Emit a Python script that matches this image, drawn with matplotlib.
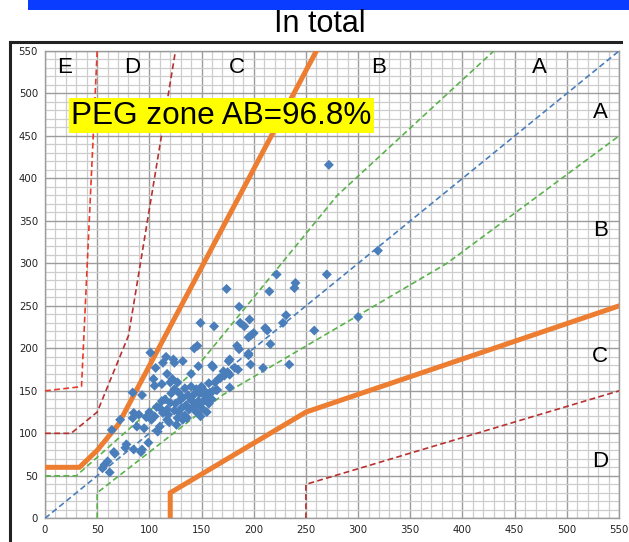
import matplotlib
matplotlib.use("Agg")
import matplotlib.pyplot as plt
from matplotlib.lines import Line2D
from matplotlib.patches import Rectangle
from matplotlib.ticker import MultipleLocator

# reference vs. measured glucose (mg/dL)
ref_x = [272, 319, 300, 270, 222, 258, 240, 239, 215, 174, 186, 149, 162, 187, 191,
         196, 228, 231, 211, 213, 200, 195, 216, 146, 143, 184, 186, 195, 177, 197,
         209, 234, 182, 171, 177, 177, 165, 160, 161, 147, 168, 157, 152, 154, 148,
         145, 140, 134, 132, 123, 124, 116, 113, 101, 106, 104, 105, 112, 117, 122,
         93, 84, 85, 84, 88, 97, 102, 95, 99, 93, 85, 78, 77, 72, 64, 66, 67, 60, 57,
         55, 62, 108, 110, 117, 127, 132, 110, 120, 124, 135, 140, 146, 154, 155, 161,
         167, 137, 132, 134, 121, 124, 117, 113, 107, 147, 156, 150, 164, 172, 175,
         185, 176, 195, 198, 115, 118, 125, 128, 130, 138, 142, 145, 150, 152, 158,
         160, 128, 112, 119, 126, 131, 136, 143, 149, 163, 157, 120, 127, 140, 100,
         105, 90, 92]
meas_y = [416, 315, 237, 287, 287, 221, 277, 271, 267, 270, 249, 230, 226, 230, 226,
          234, 230, 239, 224, 221, 218, 213, 205, 203, 200, 203, 199, 194, 187, 181,
          177, 181, 177, 173, 169, 154, 151, 180, 178, 179, 165, 159, 151, 146, 147,
          152, 155, 153, 185, 187, 183, 190, 183, 195, 177, 164, 156, 158, 170, 164,
          145, 148, 124, 118, 108, 119, 116, 106, 89, 81, 81, 87, 83, 116, 104, 78, 76,
          67, 63, 59, 54, 102, 108, 116, 118, 116, 130, 136, 127, 133, 139, 136, 143,
          125, 150, 165, 145, 142, 121, 147, 152, 128, 124, 131, 138, 143, 155, 151,
          168, 172, 175, 185, 192, 216, 140, 122, 135, 125, 140, 128, 131, 125, 130,
          138, 148, 140, 148, 138, 113, 110, 130, 118, 146, 120, 160, 135, 160, 160,
          170, 125, 120, 122, 78]

# Parkes error grid zone boundaries
identity_x = [0, 550]
identity_y = [0, 550]
a_upper_x = [0, 30, 140, 280, 430]
a_upper_y = [50, 50, 170, 380, 550]
a_lower_x = [50, 50, 170, 385, 550]
a_lower_y = [0, 30, 145, 300, 450]
b_upper_x = [0, 33, 50, 70, 260]
b_upper_y = [60, 60, 80, 110, 550]
b_lower_x = [120, 120, 250, 550]
b_lower_y = [0, 30, 125, 250]
c_upper_x = [0, 25, 50, 80, 125]
c_upper_y = [100, 100, 125, 215, 550]
c_lower_x = [250, 250, 550]
c_lower_y = [0, 40, 150]
d_upper_x = [0, 35, 50]
d_upper_y = [150, 155, 550]

zone_labels = ["E", "D", "C", "B", "A", "A", "B", "C", "D"]
zone_label_x = [19, 84, 184, 320, 474, 532, 532, 532, 532]
zone_label_y = [530, 530, 530, 530, 530, 478, 339, 190, 67]

peg_text = "PEG zone AB=96.8%"

W, H, DPI = 629, 542, 100
fig = plt.figure(figsize=(W / DPI, H / DPI), dpi=DPI)
fig.patch.set_facecolor("white")

# blue band and frame lines
fig.add_artist(Rectangle((28 / W, 1 - 10 / H), 1, 10 / H, transform=fig.transFigure,
                         facecolor="#0A3CFF", edgecolor="none"))
fig.add_artist(Line2D([10 / W, 10 / W], [0, 1 - 42 / H], transform=fig.transFigure,
                      color="#222222", lw=2.2))
fig.add_artist(Line2D([10 / W, 621 / W], [1 - 42 / H, 1 - 42 / H],
                      transform=fig.transFigure, color="#222222", lw=2.2))
fig.text(320 / W, 1 - 24 / H, "In total", ha="center", va="center",
         fontsize=22, family=["Liberation Sans", "DejaVu Sans"])

ax = fig.add_axes([45 / W, (H - 518.3) / H, 574 / W, 467.3 / H])
ax.set_xlim(0, 550)
ax.set_ylim(0, 550)
ax.xaxis.set_major_locator(MultipleLocator(50))
ax.yaxis.set_major_locator(MultipleLocator(50))
ax.xaxis.set_minor_locator(MultipleLocator(10))
ax.yaxis.set_minor_locator(MultipleLocator(10))
ax.grid(which="minor", color="#CDCDCD", lw=0.9)
ax.grid(which="major", color="#9C9C9C", lw=1.0)
ax.set_axisbelow(True)
ax.tick_params(which="both", length=0, labelsize=7.3, colors="#222222")
ax.tick_params(axis="x", pad=5)
ax.tick_params(axis="y", pad=5)
for sp in ax.spines.values():
    sp.set_color("#9C9C9C")
    sp.set_linewidth(1.0)

dash = dict(lw=1.2, linestyle=(0, (3.5, 2)))
ax.plot(identity_x, identity_y, color="#4A7EBB", zorder=3, **dash)
ax.plot(a_upper_x, a_upper_y, color="#59B34A", zorder=3, **dash)
ax.plot(a_lower_x, a_lower_y, color="#59B34A", zorder=3, **dash)
ax.plot(c_upper_x, c_upper_y, color="#B8312F", zorder=3, **dash)
ax.plot(c_lower_x, c_lower_y, color="#B8312F", zorder=3, **dash)
ax.plot(d_upper_x, d_upper_y, color="#E8392B", zorder=3, **dash)
ax.plot(b_upper_x, b_upper_y, color="#ED7D31", lw=3.6, zorder=3,
        solid_joinstyle="miter")
ax.plot(b_lower_x, b_lower_y, color="#ED7D31", lw=3.6, zorder=3,
        solid_joinstyle="miter")

ax.scatter(ref_x, meas_y, marker="D", s=26, color="#4A7EBB", edgecolors="none",
           zorder=4)

for lab, lx, ly in zip(zone_labels, zone_label_x, zone_label_y):
    ax.text(lx, ly, lab, ha="center", va="center", fontsize=16,
            family=["Liberation Sans", "DejaVu Sans"], zorder=5)

ax.text(25, 474, peg_text, ha="left", va="center", fontsize=22.7,
        family=["Liberation Sans", "DejaVu Sans"], zorder=6,
        bbox=dict(boxstyle="square,pad=0.07", facecolor="#FFFF00", edgecolor="none"))

fig.savefig("out.png", dpi=DPI)
